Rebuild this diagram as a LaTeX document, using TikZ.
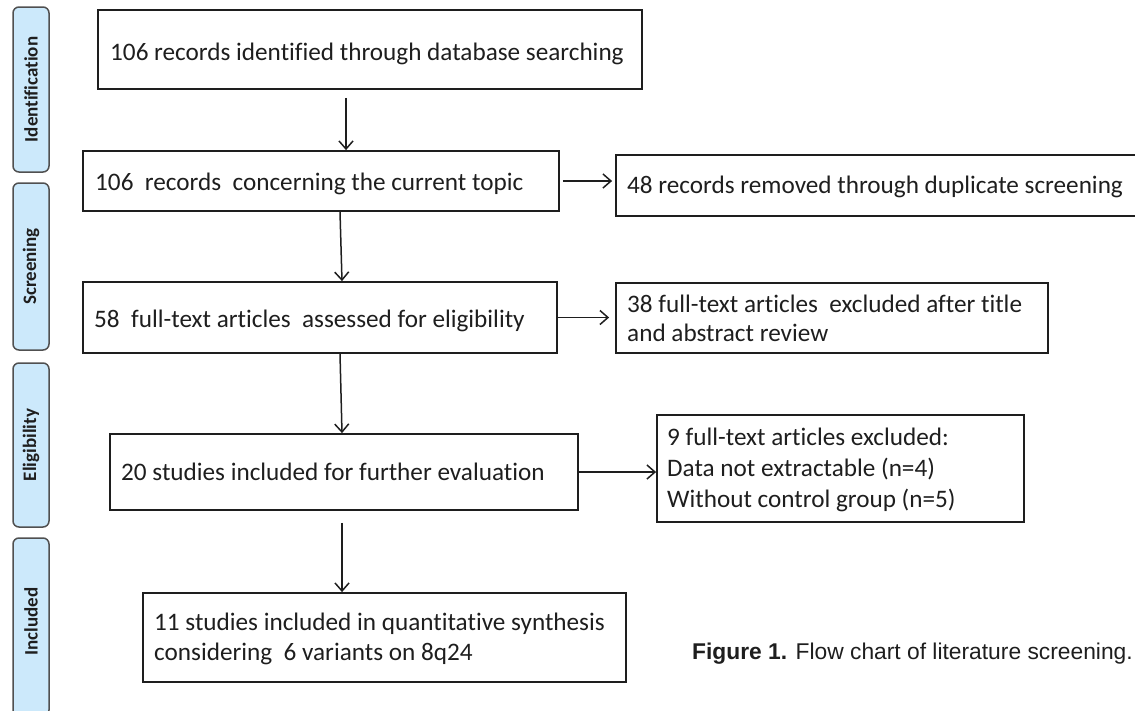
\documentclass[tikz,border=0pt]{standalone}
\usepackage{fontspec}
\setmainfont[Ligatures={NoCommon}]{Carlito}
\newfontfamily\capfont{Liberation Sans}
\usetikzlibrary{arrows.meta}
\definecolor{sidefill}{RGB}{204,233,251}
\definecolor{sidedraw}{RGB}{80,80,80}
\definecolor{ink}{RGB}{30,30,30}
\begin{document}
\begin{tikzpicture}[x=1pt,y=-1pt,
  box/.style={draw=ink, line width=1.8pt, inner sep=0pt},
  side/.style={draw=sidedraw, fill=sidefill, line width=1.5pt, rounded corners=6pt, inner sep=0pt},
  sidetxt/.style={rotate=90, inner sep=0pt, font=\fontsize{19}{22}\selectfont\bfseries, text=ink},
  txt/.style={anchor=base west, inner sep=0pt, font=\fontsize{25.2}{30}\selectfont, text=ink},
  arr/.style={draw=ink, line width=1.5pt, -{Straight Barb[length=8pt,width=14pt,line width=1.5pt]}}
]
\useasboundingbox (0,0) rectangle (1135,710);
\clip (0,0) rectangle (1135,710);

% side phase labels
\node[side, minimum width=36pt, minimum height=165pt] (s1) at (31,89.5) {};
\node[side, minimum width=36pt, minimum height=167pt] (s2) at (31,266.5) {};
\node[side, minimum width=36pt, minimum height=164pt] (s3) at (31,445) {};
\node[side, minimum width=36pt, minimum height=178pt] (s4) at (31,627) {};
\node[sidetxt] (t1) at (s1.center) {Identification};
\node[sidetxt] (t2) at (s2.center) {Screening};
\node[sidetxt] (t3) at (s3.center) {Eligibility};
\node[sidetxt] (t4) at (31,621.5) {Included};

% boxes
\node[box, minimum width=544pt, minimum height=79pt] (b1) at (370,49.5) {};
\node[box, minimum width=476pt, minimum height=60pt] (b2) at (321,181) {};
\node[box, minimum width=524pt, minimum height=61pt] (b3) at (878,185.5) {};
\node[box, minimum width=474pt, minimum height=71pt] (b4) at (320,317.5) {};
\node[box, minimum width=432pt, minimum height=70pt] (b5) at (832,318) {};
\node[box, minimum width=468pt, minimum height=76pt] (b6) at (344,472) {};
\node[box, minimum width=367pt, minimum height=107pt] (b7) at (840.5,468.5) {};
\node[box, minimum width=483pt, minimum height=89pt] (b8) at (384.5,637.5) {};

% texts
\node[txt] (x1) at (110,60) {106 records identified through database searching};
\node[txt] (x2) at (95,190) {106\ \ records\ \ concerning the current topic};
\node[txt] (x3) at (627,193) {48 records removed through duplicate screening};
\node[txt] (x4) at (94,327) {58\ \ full-text articles\ \ assessed for eligibility};
\node[txt] (x5a) at (627,312) {38 full-text articles\ \ excluded after title};
\node[txt] (x5b) at (627,341) {and abstract review};
\node[txt] (x6) at (121,480) {20 studies included for further evaluation};
\node[txt] (x7a) at (667,445) {9 full-text articles excluded:};
\node[txt] (x7b) at (667,476) {Data not extractable (n=4)};
\node[txt] (x7c) at (667,507) {Without control group (n=5)};
\node[txt] (x8a) at (154,630) {11 studies included in quantitative synthesis};
\node[txt] (x8b) at (154,660) {considering\ \ 6 variants on 8q24};

% caption
\node[anchor=base west, inner sep=0pt, text=ink, font=\capfont\fontsize{22.8}{26}\selectfont] (cap) at (692,659) {\textbf{Figure 1.} Flow chart of literature screening.};

% connectors
\coordinate (cA) at (346,0);
\coordinate (cB1) at (340,0);
\coordinate (cB2) at (342,0);
\draw[arr, shorten <=8pt] (b1.south -| cA) -- (b2.north -| cA);
\draw[arr] (b2.south -| cB1) -- (b4.north -| cB2);
\draw[arr] (b4.south -| cB1) -- (b6.north -| cB2);
\draw[arr, shorten <=12pt] (b6.south -| cB2) -- (b8.north -| cB2);
\draw[arr, shorten <=3pt, shorten >=3pt] (b2.east) -- (b2.east -| b3.west);
\draw[arr, shorten >=6pt] (b4.east) -- (b4.east -| b5.west);
\draw[arr] (b6.east) -- (b6.east -| b7.west);
\end{tikzpicture}
\end{document}
